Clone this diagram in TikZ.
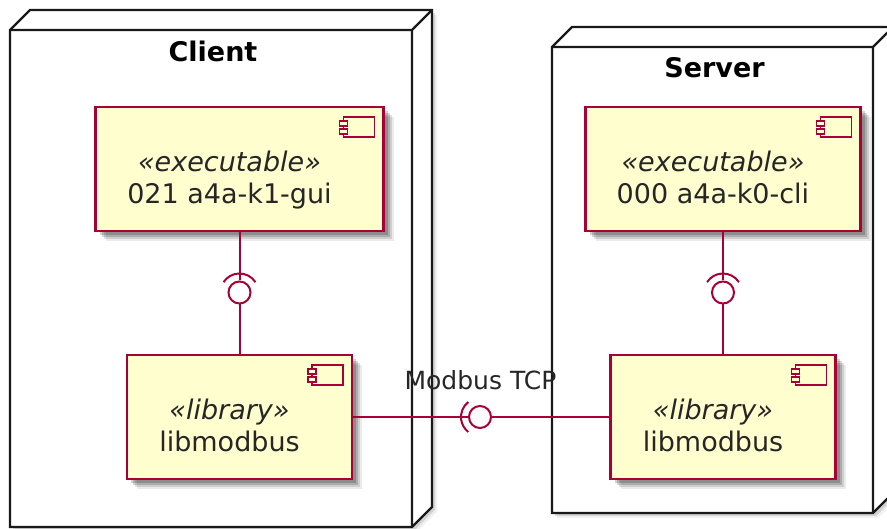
\documentclass[tikz,border=0pt]{standalone}
\usepackage{fontspec}
\setmainfont{DejaVu Sans}
\usetikzlibrary{calc,positioning,shadows}
\definecolor{umlred}{HTML}{A80036}
\definecolor{umlfill}{HTML}{FEFECE}
\newcommand{\compicon}[1]{%
  \draw[icon] ($(#1.north east)+(-40,-10)$) rectangle ($(#1.north east)+(-9,-30)$);
  \draw[icon] ($(#1.north east)+(-44,-14)$) rectangle ($(#1.north east)+(-36,-19)$);
  \draw[icon] ($(#1.north east)+(-44,-22)$) rectangle ($(#1.north east)+(-36,-27)$);}
\newcommand{\comptext}[3]{%
  \node[stereo] (#1st) at ($(#1.center)+(-10,-3)$) {«#2»};
  \node[cname] (#1nm) at ($(#1.center)+(-10,-35)$) {#3};}

\begin{document}
\begin{tikzpicture}[x=1pt,y=1pt,
  softshadow/.style={
    drop shadow={shadow xshift=10pt, shadow yshift=-10pt, fill=black, opacity=.08},
    drop shadow={shadow xshift=8pt, shadow yshift=-8pt, fill=black, opacity=.12},
    drop shadow={shadow xshift=6pt, shadow yshift=-6pt, fill=black, opacity=.16},
    drop shadow={shadow xshift=4pt, shadow yshift=-4pt, fill=black, opacity=.18}},
  nodeshadow/.style={
    drop shadow={shadow xshift=5pt, shadow yshift=-5pt, fill=black, opacity=.06},
    drop shadow={shadow xshift=3pt, shadow yshift=-3pt, fill=black, opacity=.12}},
  nodeface/.style={inner sep=0pt, outer sep=0pt},
  nodeline/.style={draw=black!90, fill=white, line width=2.4pt, line join=miter},
  comp/.style={draw=umlred, fill=umlfill, line width=2.3pt, minimum height=124,
    inner sep=0pt, outer sep=0pt, softshadow},
  icon/.style={draw=umlred, fill=umlfill, line width=1.8pt},
  iface/.style={circle, draw=umlred, fill=white, line width=2pt, minimum size=22, inner sep=0pt},
  conn/.style={draw=umlred, line width=2pt},
  title/.style={font=\bfseries\fontsize{27}{32}\selectfont, inner sep=0pt, anchor=base},
  stereo/.style={font=\itshape\fontsize{27}{32}\selectfont, inner sep=0pt, anchor=base, text=black!85},
  cname/.style={font=\fontsize{27}{32}\selectfont, inner sep=0pt, anchor=base, text=black!85},
  lbl/.style={font=\fontsize{25}{30}\selectfont, inner sep=0pt, anchor=base, text=black!85}]
\useasboundingbox (0,0) rectangle (887,529);
\clip (0,0) rectangle (887,529);

% client node
\path node[nodeface, minimum width=402, minimum height=497] (client) at (211,250.5) {};
\draw[nodeline, nodeshadow]
  (client.south west) -- (client.north west) -- ++(20,20) -- ++(402,0) -- ++(0,-497) -- (client.south east) -- cycle;
\draw[nodeline, fill=none] (client.north west) -- (client.north east) -- (client.south east)
  (client.north east) -- ++(20,20);
\node[title] (clientT) at ($(client.north)+(2,-32)$) {Client};

% server node
\path node[nodeface, minimum width=321, minimum height=466] (server) at (712.5,249) {};
\draw[nodeline, nodeshadow]
  (server.south west) -- (server.north west) -- ++(20,20) -- ++(321,0) -- ++(0,-466) -- (server.south east) -- cycle;
\draw[nodeline, fill=none] (server.north west) -- (server.north east) -- (server.south east)
  (server.north east) -- ++(20,20);
\node[title] (serverT) at ($(server.north)+(2,-31)$) {Server};

% components
\node[comp, minimum width=288] (exeC) at (239.5,360) {};
\compicon{exeC}
\comptext{exeC}{executable}{021 a4a-k1-gui}
\node[comp, minimum width=275] (exeS) at (723,360) {};
\compicon{exeS}
\comptext{exeS}{executable}{000 a4a-k0-cli}
\node[comp, minimum width=225] (libC) at (239.5,112) {};
\compicon{libC}
\comptext{libC}{library}{libmodbus}
\node[comp, minimum width=225] (libS) at (723,112) {};
\compicon{libS}
\comptext{libS}{library}{libmodbus}

% interfaces
\node[iface] (ifC) at (239.5,236.5) {};
\node[iface] (ifS) at (723,236.5) {};
\node[iface] (ifM) at (480,112) {};
\node[lbl] (lblM) at ($(ifM)+(0.5,27)$) {Modbus TCP};

\draw[conn] (exeC) -- (ifC);
\draw[conn] (ifC) -- (libC);
\draw[conn] ($(ifC)+(33:19)$) arc[start angle=33, end angle=147, radius=19];
\draw[conn] (exeS) -- (ifS);
\draw[conn] (ifS) -- (libS);
\draw[conn] ($(ifS)+(33:19)$) arc[start angle=33, end angle=147, radius=19];
\draw[conn] (libC) -- (ifM);
\draw[conn] (ifM) -- (libS);
\draw[conn] ($(ifM)+(128:19)$) arc[start angle=128, end angle=232, radius=19];
\end{tikzpicture}
\end{document}
